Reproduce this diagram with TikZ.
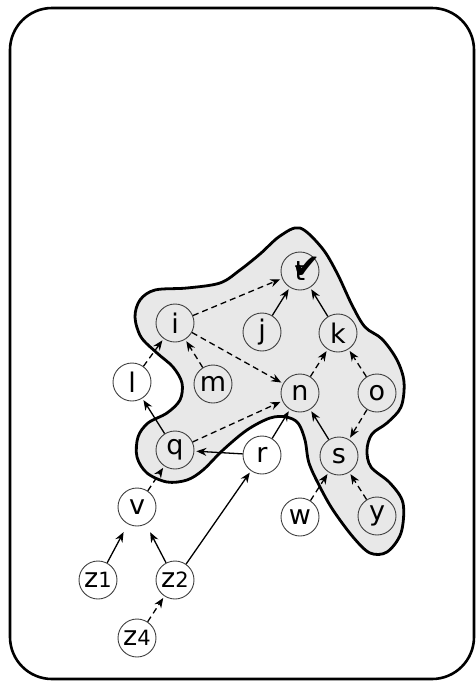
\documentclass[tikz,border=0pt]{standalone}
\usepackage{fontspec}
\setmainfont{DejaVu Sans}
\usetikzlibrary{arrows.meta}
\begin{document}
\begin{tikzpicture}[x=1pt,y=-1pt,
  vtx/.style={circle,draw=black!75,line width=0.9pt,minimum size=38pt,inner sep=0pt,font=\fontsize{27}{27}\selectfont},
  arr/.style={-{Stealth[length=10pt,width=8pt]},line width=1.3pt,shorten >=2pt},
  darr/.style={arr,dash pattern=on 6pt off 4pt},
  frame/.style={line width=2.6pt,rounded corners=42pt},
  blob/.style={line width=2.8pt,fill=black!9}]
\useasboundingbox (0,0) rectangle (476,681);
\draw[frame] (10,8) rectangle (474,679);
\draw[blob] plot[smooth cycle, tension=0.55] coordinates {
 (300,228) (322,248) (337,273) (352,305) (365,327) (382,339) (397,360) (404,382)
 (401,407) (387,423) (372,434) (367,450) (371,467) (390,483) (403,503) (401,533)
 (387,552) (370,553) (353,537) (333,510) (320,487) (309,463) (305,440) (298,423)
 (286,417) (270,418) (247,430) (223,450) (203,470) (187,480) (167,482) (147,473)
 (137,457) (138,437) (148,423) (167,413) (180,400) (182,383) (173,367) (157,353)
 (141,337) (135,317) (140,300) (155,290) (187,288) (220,283) (240,270) (260,254)
 (280,236)};
\node[vtx] (t) at (300,271) {t};
\node[font=\fontsize{34}{34}\selectfont, inner sep=0pt] (chk) at (307,268) {✔};
\node[vtx] (i) at (175,323) {i};
\node[vtx] (j) at (262,332) {j};
\node[vtx] (k) at (338,333) {k};
\node[vtx] (l) at (132,382) {l};
\node[vtx] (m) at (213,384) {m};
\node[vtx] (n) at (300,393) {n};
\node[vtx] (o) at (377,393) {o};
\node[vtx] (q) at (175,450) {q};
\node[vtx] (r) at (262,455) {r};
\node[vtx] (s) at (339,456) {s};
\node[vtx] (v) at (137,507) {v};
\node[vtx] (w) at (300,517) {w};
\node[vtx] (y) at (377,516) {y};
\node[vtx] (z1) at (98,580) {z{\fontsize{21}{21}\selectfont 1}};
\node[vtx] (z2) at (175,580) {z{\fontsize{21}{21}\selectfont 2}};
\node[vtx] (z4) at (137,638) {z{\fontsize{21}{21}\selectfont 4}};
\draw[darr] (i) -- (t);
\draw[darr] (i) -- (n);
\draw[arr] (j) -- (t);
\draw[arr] (k) -- (t);
\draw[darr] (l) -- (i);
\draw[darr] (m) -- (i);
\draw[darr] (n) -- (k);
\draw[darr] (o) -- (k);
\draw[darr] (o) -- (s);
\draw[arr] (q) -- (l);
\draw[darr] (q) -- (n);
\draw[arr] (r) -- (q);
\draw[arr] (r) -- (n);
\draw[arr] (s) -- (n);
\draw[darr] (w) -- (s);
\draw[darr] (y) -- (s);
\draw[darr] (v) -- (q);
\draw[arr,shorten >=9pt] (z1) -- (v);
\draw[arr,shorten >=9pt] (z2) -- (v);
\draw[arr] (z2) -- (r);
\draw[darr] (z4) -- (z2);
\end{tikzpicture}
\end{document}
